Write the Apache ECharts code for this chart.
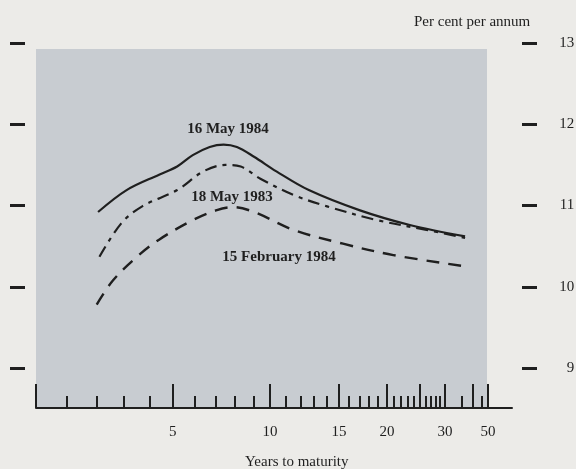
<!DOCTYPE html>
<html><head><meta charset="utf-8">
<script src="https://cdn.jsdelivr.net/npm/echarts@6/dist/echarts.min.js"></script>
<style>html,body{margin:0;padding:0;background:#ecebe8;}#c{width:576px;height:469px;}</style>
</head><body><div id="c"></div>
<script>
// ---- data (years to maturity, yield % p.a.) ----
const may84Years = [2.05, 3.1, 4.4, 5.2, 5.9, 6.7, 7.4, 8.1, 9.0, 10.4, 12.6, 17.0, 23.3, 36.4];
const may84Yield = [10.92, 11.19, 11.38, 11.48, 11.62, 11.72, 11.75, 11.72, 11.60, 11.42, 11.19, 10.94, 10.76, 10.62];
const may83Years = [2.1, 2.9, 3.7, 5.2, 6.4, 7.5, 8.3, 9.4, 11.5, 14.0, 18.9, 26.1, 36.4];
const may83Yield = [10.37, 10.78, 10.99, 11.19, 11.42, 11.50, 11.48, 11.33, 11.13, 10.99, 10.82, 10.70, 10.60];
const feb84Years = [2.0, 2.6, 3.5, 4.4, 5.9, 7.0, 7.9, 9.0, 11.5, 15.4, 20.9, 36.8];
const feb84Yield = [9.78, 10.08, 10.37, 10.58, 10.82, 10.94, 10.98, 10.92, 10.70, 10.53, 10.39, 10.25];
const seriesNames = ['16 May 1984', '18 May 1983', '15 February 1984'];
const xLabelYears = [5, 10, 15, 20, 30, 50];
const majorTickYears = [0, 5, 10, 15, 20, 25, 30, 40, 50];
const yTickMin = 9, yTickMax = 13, yTickStep = 1;

// ---- printed nonlinear maturity scale: tick year -> distance along axis ----
const scaleYears = [0,1,2,3,4,5,6,7,8,9,10,11,12,13,14,15,16,17,18,19,20,21,22,23,24,25,26,27,28,29,30,35,40,45,50];
const scaleDist  = [0,30.7,60.7,88,114,136.7,159,180,199,218,234,250,265,278,291,303,313,324,333,342,351,358,365,372,378,384,390,395,400,404,409,426,437,446,452];
function T(yr){
  for(let i=1;i<scaleYears.length;i++){
    if(yr<=scaleYears[i]){
      const a=scaleYears[i-1], b=scaleYears[i];
      return scaleDist[i-1]+(yr-a)/(b-a)*(scaleDist[i]-scaleDist[i-1]);
    }
  }
  return scaleDist[scaleDist.length-1];
}
const minorTickYears = scaleYears.filter(y => majorTickYears.indexOf(y) < 0);
const toPts = (xs, ys) => xs.map((x,i)=>[T(x), ys[i]]);

const YMIN = 8.508, YMAX = 13.037, PANEL_TOP = 12.926;
const FONT = '"Liberation Serif", "DejaVu Serif", serif';
const INK = '#1f1f1f';

const chart = echarts.init(document.getElementById('c'), null, {renderer:'canvas'});
const lbl = (text, x, y) => ({coord:[x,y], symbol:'circle', symbolSize:0,
  label:{show:true, position:'inside', formatter:text, fontFamily:FONT, fontSize:15, fontWeight:'bold', color:INK}});
const hiddenX = (gi) => ({type:'value', gridIndex:gi, min:0, max:1, show:false});
const tickY = (gi, pos, showLabels) => ({type:'value', gridIndex:gi, position:pos,
  min:yTickMin, max:yTickMax, interval:yTickStep,
  axisLine:{show:false},
  axisTick:{show:true, length:15, lineStyle:{color:INK, width:3}},
  axisLabel:{show:showLabels, align:'right', margin:52, fontFamily:FONT, fontSize:15, color:INK},
  splitLine:{show:false}});

chart.setOption({
  animation:false,
  backgroundColor:'#ecebe8',
  title:[
    {text:'Per cent per annum', left:414, top:15, padding:0,
     textStyle:{fontFamily:FONT, fontSize:15, fontWeight:'normal', color:INK}},
    {text:'Years to maturity', left:245, top:455, padding:0,
     textStyle:{fontFamily:FONT, fontSize:15, fontWeight:'normal', color:INK}}
  ],
  grid:[
    {left:36, right:64, top:40, bottom:61},
    {left:25, width:1, top:43, height:325},
    {left:522, width:1, top:43, height:325}
  ],
  xAxis:[
    {type:'value', gridIndex:0, min:0, max:476, position:'bottom', z:5,
     axisLine:{show:true, lineStyle:{color:INK, width:2}},
     axisTick:{show:true, inside:true, length:24, customValues:majorTickYears.map(T), lineStyle:{color:INK, width:2}},
     axisLabel:{show:true, customValues:xLabelYears.map(T), margin:17,
       formatter:(v)=>{let best=xLabelYears[0],d=1e9;xLabelYears.forEach(y=>{const dd=Math.abs(T(y)-v);if(dd<d){d=dd;best=y;}});return String(best);},
       fontFamily:FONT, fontSize:15, color:INK},
     splitLine:{show:false}},
    {type:'value', gridIndex:0, min:0, max:476, position:'bottom', z:5,
     axisLine:{show:false},
     axisTick:{show:true, inside:true, length:12, customValues:minorTickYears.map(T), lineStyle:{color:INK, width:2}},
     axisLabel:{show:false}, splitLine:{show:false}},
    hiddenX(1), hiddenX(2)
  ],
  yAxis:[
    {type:'value', gridIndex:0, min:YMIN, max:YMAX, show:false},
    tickY(1, 'left', false),
    tickY(2, 'right', true)
  ],
  series:[
    {name:'plotarea', type:'line', data:[], z:1, silent:true,
     markArea:{silent:true, itemStyle:{color:'#c8ccd1'},
       data:[[{coord:[0, YMIN]},{coord:[451, PANEL_TOP]}]]}},
    {name:seriesNames[0], type:'line', smooth:0.35, showSymbol:false, symbol:'none', z:3,
     data:toPts(may84Years, may84Yield), lineStyle:{color:INK, width:2.2},
     markPoint:{silent:true, data:[lbl(seriesNames[0], 192, 11.94)]}},
    {name:seriesNames[1], type:'line', smooth:0.35, showSymbol:false, symbol:'none', z:3,
     data:toPts(may83Years, may83Yield), lineStyle:{color:INK, width:2.2, type:[12,6,4,6]},
     markPoint:{silent:true, data:[lbl(seriesNames[1], 196, 11.105)]}},
    {name:seriesNames[2], type:'line', smooth:0.35, showSymbol:false, symbol:'none', z:3,
     data:toPts(feb84Years, feb84Yield), lineStyle:{color:INK, width:2.4, type:[13,9]},
     markPoint:{silent:true, data:[lbl(seriesNames[2], 243, 10.366)]}}
  ]
});
</script></body></html>
